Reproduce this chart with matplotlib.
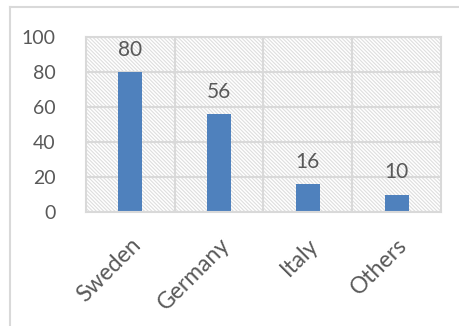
import matplotlib
matplotlib.use("Agg")
import matplotlib.pyplot as plt
from matplotlib.patches import Rectangle
from matplotlib.lines import Line2D

countries = ["Sweden", "Germany", "Italy", "Others"]
values = [80, 56, 16, 10]
y_ticks = [0, 20, 40, 60, 80, 100]

text_color = "#595959"
grid_color = "#d9d9d9"
bar_color = "#4f81bd"

plt.rcParams["font.family"] = ["Lato", "DejaVu Sans"]
plt.rcParams["hatch.linewidth"] = 0.8

fig = plt.figure(figsize=(4.6, 3.26), dpi=100)
ax = fig.add_axes([86 / 460, 1 - 212 / 326, 355 / 460, 175 / 326])

# hatched plot area background
ax.add_patch(Rectangle((0, 0), 1, 1, transform=ax.transAxes, facecolor="white",
                       edgecolor="#dedede", hatch="\\" * 9, linewidth=0, zorder=0))

x = range(len(countries))
ax.bar(x, values, width=0.27, color=bar_color, zorder=3)
for xi, v in zip(x, values):
    ax.annotate(str(v), (xi, v), xytext=(0, 9), textcoords="offset points",
                ha="center", va="bottom", fontsize=15, color=text_color)

ax.set_xlim(-0.5, len(countries) - 0.5)
ax.set_ylim(0, 100)
ax.set_yticks(y_ticks)
ax.set_xticks(list(x))
ax.set_xticklabels(countries, rotation=45, ha="right", rotation_mode="anchor")

# gridlines drawn over the hatch, under the bars
for yv in y_ticks:
    ax.axhline(yv, color=grid_color, linewidth=1.5, zorder=1)
for xv in [0.5, 1.5, 2.5]:
    ax.axvline(xv, color=grid_color, linewidth=1.5, zorder=1)

ax.tick_params(axis="both", which="both", length=0, labelcolor=text_color)
ax.tick_params(axis="y", pad=22, labelsize=14)
ax.tick_params(axis="x", pad=16, labelsize=16.5)
for s in ax.spines.values():
    s.set_color(grid_color)
    s.set_linewidth(1.5)
    s.set_zorder(4)

# chart border (top and left only visible)
fig.add_artist(Line2D([10 / 460, 1], [1 - 7 / 326, 1 - 7 / 326], color=grid_color, linewidth=1.5))
fig.add_artist(Line2D([10 / 460, 10 / 460], [0, 1 - 7 / 326], color=grid_color, linewidth=1.5))

fig.savefig("out.png", dpi=100)
